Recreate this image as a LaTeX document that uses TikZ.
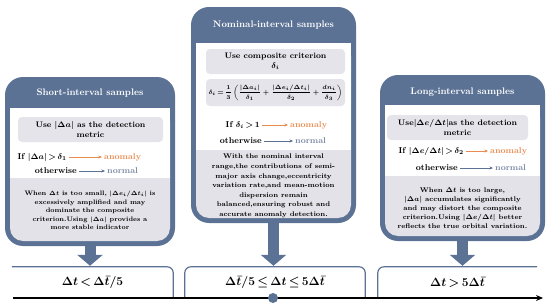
\documentclass[tikz,border=0pt]{standalone}
\usepackage{amsmath}
\usepackage{xcolor}
\usepackage{tikz}
\usetikzlibrary{arrows.meta,positioning}

\definecolor{pblue}{RGB}{91,114,149}
\definecolor{boxgrey}{RGB}{228,228,234}
\definecolor{notegrey}{RGB}{226,226,232}
\definecolor{anom}{RGB}{234,140,80}
\definecolor{norm}{RGB}{120,136,163}

\thickmuskip=3mu plus 1mu

\begin{document}
\begin{tikzpicture}[
  x=1pt, y=-1pt,
  hdr/.style={text=white, inner sep=1pt, font=\fontsize{9.5}{11}\selectfont\bfseries},
  mbox/.style={fill=boxgrey, rounded corners=4pt, align=center, inner sep=1pt,
               font=\fontsize{8}{9.5}\selectfont\bfseries\boldmath},
  cond/.style={inner sep=1pt, font=\fontsize{8.5}{10}\selectfont\bfseries\boldmath},
  note/.style={align=center, inner sep=0pt, font=\fontsize{6.5}{8.6}\selectfont\bfseries\boldmath},
  tab/.style={minimum height=31pt, inner sep=0pt, font=\fontsize{12.5}{15}\selectfont\boldmath},
  tabline/.style={draw=pblue, line width=1.2pt, rounded corners=6pt},
  ar/.style={-{Stealth[length=3.5pt,width=3pt]}, line width=0.9pt, shorten >=1pt, shorten <=1pt},
  barr/.style={draw=pblue, line width=11pt, -{Triangle[width=25pt,length=11pt]}, shorten >=1pt},
]
\useasboundingbox (0,0) rectangle (550,308);

% panels
\foreach \n/\xa/\xb/\ya/\yw/\yg/\yb in {S/5/175/77/108/178/246, N/191/356/7/43/150/223, L/380/545/75/105/176/241}{
  \fill[pblue, rounded corners=18pt] (\xa,\ya) rectangle (\xb,\yb);
  \fill[notegrey, rounded corners=13pt] (\xa+5,\yw) rectangle (\xb-5,\yb-5);
  \fill[white] (\xa+5,\yw) rectangle (\xb-5,\yg);
  \coordinate (p\n) at ({(\xa+\xb)/2},\yb);
}

% short interval
\node[hdr] (hdS) at (90,93) {Short-interval samples};
\node[mbox, minimum width=145pt, minimum height=25pt] (useS) at (90.5,129.5)
     {Use $|\Delta a|$ as the detection\\metric};
\node[cond, anchor=east] (ifS) at (68,157) {If $|\Delta a|>\delta_1$};
\node[cond, anchor=west, text=anom] (anS) at (103,157) {anomaly};
\node[cond, anchor=east] (owS) at (78,171) {otherwise};
\node[cond, anchor=west, text=norm] (nmS) at (106,171) {normal};
\node[note] (noteS) at (90,210.5)
     {When $\Delta t$ is too small, $|\Delta e_i/\Delta t_i|$ is\\excessively amplified and may\\dominate the composite\\criterion.Using $|\Delta a|$ provides a\\more stable indicator};

% nominal interval
\node[hdr] (hdN) at (273.5,25) {Nominal-interval samples};
\node[mbox, minimum width=139pt, minimum height=25pt] (useN) at (275.5,61.5)
     {Use composite criterion\\$\delta_i$};
\node[mbox, minimum width=139pt, minimum height=27pt, font=\fontsize{6.5}{8}\selectfont\boldmath] (fmN) at (275.5,92.5)
     {$\displaystyle\delta_i=\frac{1}{3}\left(\frac{|\Delta a_i|}{\delta_1}+\frac{|\Delta e_i/\Delta t_i|}{\delta_2}+\frac{dn_i}{\delta_3}\right)$};
\node[cond, anchor=east] (ifN) at (261,125) {If $\delta_i>1$};
\node[cond, anchor=west, text=anom] (anN) at (289,125) {anomaly};
\node[cond, anchor=east] (owN) at (263,141) {otherwise};
\node[cond, anchor=west, text=norm] (nmN) at (294,141) {normal};
\node[note, font=\fontsize{6.8}{9.6}\selectfont\bfseries\boldmath] (noteN) at (273.5,186)
     {With the nominal interval\\range,the contributions of semi-\\major axis change,eccentricity\\variation rate,and mean-motion\\dispersion remain\\balanced,ensuring robust and\\accurate anomaly detection.};

% long interval
\node[hdr] (hdL) at (462.5,92) {Long-interval samples};
\node[mbox, minimum width=141pt, minimum height=25pt] (useL) at (457.5,127.5)
     {Use$|\Delta e/\Delta t|$as the detection\\metric};
\node[cond, anchor=east] (ifL) at (465,151) {If $|\Delta e/\Delta t|>\delta_2$};
\node[cond, anchor=west, text=anom] (anL) at (489,151) {anomaly};
\node[cond, anchor=east] (owL) at (459,168) {otherwise};
\node[cond, anchor=west, text=norm] (nmL) at (494,168) {normal};
\node[note, font=\fontsize{6.8}{9}\selectfont\bfseries\boldmath] (noteL) at (462.5,208)
     {When $\Delta t$ is too large,\\$|\Delta a|$ accumulates significantly\\and may distort the composite\\criterion.Using $|\Delta e/\Delta t|$ better\\reflects the true orbital variation.};

\foreach \n in {S,N,L}{
  \draw[ar, draw=anom] (if\n) -- (an\n);
  \draw[ar, draw=pblue] (ow\n) -- (nm\n);
}

% interval tabs
\node[tab, minimum width=161pt] (tS) at (92.5,282.5) {$\Delta t<\Delta\bar{t}/5$};
\node[tab, minimum width=180pt] (tN) at (275,282.5) {$\Delta\bar{t}/5\le\Delta t\le5\Delta\bar{t}$};
\node[tab, minimum width=159pt] (tL) at (457.5,282.5) {$\Delta t>5\Delta\bar{t}$};
\draw[tabline] (tS.north west) -- (tS.north east) -- (tS.south east);
\draw[tabline] (tN.south west) -- (tN.north west) -- (tN.north east) -- (tN.south east);
\draw[tabline] (tL.south west) -- (tL.north west) -- (tL.north east);

\foreach \n in {S,N,L}
  \draw[barr] (p\n) -- (p\n |- t\n.north);

% time axis
\coordinate (ax0) at (13,298);
\coordinate (ax1) at (543,298);
\draw[line width=1.3pt, -{Stealth[length=7pt,width=6pt]}] (ax0) -- (ax1);
\node[circle, fill=pblue, minimum size=10pt, inner sep=0pt] (mid) at (273,298) {};
\end{tikzpicture}
\end{document}
